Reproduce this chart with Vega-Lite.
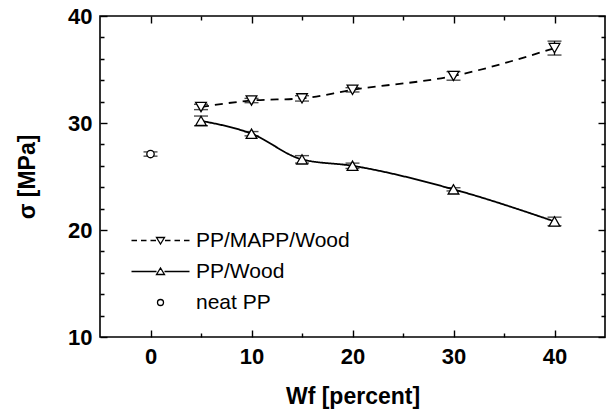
{
  "$schema": "https://vega.github.io/schema/vega-lite/v6.json",
  "width": 505,
  "height": 321,
  "autosize": {"type": "none"},
  "padding": {"left": 100, "top": 16, "right": 3, "bottom": 72},
  "background": "white",
  "config": {
    "view": {"stroke": "black", "strokeWidth": 1.6},
    "font": "Liberation Sans",
    "axis": {
      "domain": false,
      "offset": -7,
      "tickColor": "black",
      "tickWidth": 1.4,
      "tickSize": 7,
      "zindex": 1,
      "labelColor": "black",
      "titleColor": "black",
      "labelFont": "Liberation Sans",
      "titleFont": "Liberation Sans",
      "labelFontWeight": "bold",
      "titleFontWeight": "bold",
      "labelFontSize": 22,
      "titleFontSize": 23,
      "grid": false
    }
  },
  "data": {
    "values": [
      {"series": "PP/MAPP/Wood", "x": 5, "y": 31.5, "lo": 31.25, "hi": 31.75},
      {"series": "PP/MAPP/Wood", "x": 10, "y": 32.1, "lo": 31.9, "hi": 32.3},
      {"series": "PP/MAPP/Wood", "x": 15, "y": 32.3, "lo": 32.05, "hi": 32.55},
      {"series": "PP/MAPP/Wood", "x": 20, "y": 33.1, "lo": 32.9, "hi": 33.3},
      {"series": "PP/MAPP/Wood", "x": 30, "y": 34.4, "lo": 34.0, "hi": 34.8},
      {"series": "PP/MAPP/Wood", "x": 40, "y": 37.0, "lo": 36.35, "hi": 37.65},
      {"series": "PP/Wood", "x": 5, "y": 30.2, "lo": 29.75, "hi": 30.65},
      {"series": "PP/Wood", "x": 10, "y": 29.0, "lo": 28.8, "hi": 29.2},
      {"series": "PP/Wood", "x": 15, "y": 26.6, "lo": 26.25, "hi": 26.95},
      {"series": "PP/Wood", "x": 20, "y": 26.0, "lo": 25.75, "hi": 26.25},
      {"series": "PP/Wood", "x": 30, "y": 23.8, "lo": 23.65, "hi": 23.95},
      {"series": "PP/Wood", "x": 40, "y": 20.8, "lo": 20.4, "hi": 21.2},
      {"series": "neat PP", "x": 0, "y": 27.1, "lo": 26.9, "hi": 27.3}
    ]
  },
  "resolve": {"axis": {"x": "independent", "y": "independent"}, "scale": {"shape": "independent"}},
  "layer": [
    {
      "mark": {"type": "point", "opacity": 0},
      "encoding": {
        "x": {
          "field": "x", "type": "quantitative",
          "scale": {"domain": [-5, 45], "nice": false, "zero": false},
          "axis": {
            "orient": "bottom",
            "values": [0, 5, 10, 15, 20, 25, 30, 35, 40],
            "labelExpr": "datum.value % 10 === 0 ? datum.label : ''",
            "tickDash": {"condition": {"test": "datum.value % 10 === 0", "value": [20, 1]}, "value": [0, 3, 4, 20]},
            "labelPadding": 9,
            "title": "Wf [percent]",
            "titlePadding": 18
          }
        },
        "y": {
          "field": "y", "type": "quantitative",
          "scale": {"domain": [10, 40], "nice": false, "zero": false},
          "axis": {
            "orient": "left",
            "values": [10, 12, 14, 16, 18, 20, 22, 24, 26, 28, 30, 32, 34, 36, 38, 40],
            "labelExpr": "datum.value % 10 === 0 ? datum.label : ''",
            "tickDash": {"condition": {"test": "datum.value % 10 === 0", "value": [20, 1]}, "value": [0, 3, 4, 20]},
            "labelPadding": 8,
            "title": "σ [MPa]",
            "titlePadding": 28
          }
        }
      }
    },
    {
      "mark": {"type": "point", "opacity": 0},
      "encoding": {
        "x": {
          "field": "x", "type": "quantitative",
          "axis": {
            "orient": "top",
            "values": [0, 5, 10, 15, 20, 25, 30, 35, 40],
            "labels": false,
            "title": null,
            "tickDash": {"condition": {"test": "datum.value % 10 === 0", "value": [20, 1]}, "value": [0, 3, 4, 20]}
          }
        },
        "y": {
          "field": "y", "type": "quantitative",
          "axis": {
            "orient": "right",
            "values": [10, 12, 14, 16, 18, 20, 22, 24, 26, 28, 30, 32, 34, 36, 38, 40],
            "labels": false,
            "title": null,
            "tickDash": {"condition": {"test": "datum.value % 10 === 0", "value": [20, 1]}, "value": [0, 3, 4, 20]}
          }
        }
      }
    },
    {
      "transform": [{"filter": "datum.series !== 'neat PP'"}],
      "mark": {"type": "line", "interpolate": "monotone", "color": "black", "strokeWidth": 1.8},
      "encoding": {
        "x": {"field": "x", "type": "quantitative", "axis": null},
        "y": {"field": "y", "type": "quantitative", "axis": null},
        "detail": {"field": "series"},
        "strokeDash": {
          "field": "series", "type": "nominal",
          "scale": {"domain": ["PP/MAPP/Wood", "PP/Wood"], "range": [[8, 6], [1, 0]]},
          "legend": null
        }
      }
    },
    {
      "mark": {"type": "rule", "color": "black", "strokeWidth": 1.3},
      "encoding": {
        "x": {"field": "x", "type": "quantitative", "axis": null},
        "y": {"field": "lo", "type": "quantitative", "axis": null},
        "y2": {"field": "hi"}
      }
    },
    {
      "mark": {"type": "tick", "orient": "horizontal", "color": "black", "size": 14, "thickness": 1.4},
      "encoding": {
        "x": {"field": "x", "type": "quantitative", "axis": null},
        "y": {"field": "hi", "type": "quantitative", "axis": null}
      }
    },
    {
      "mark": {"type": "tick", "orient": "horizontal", "color": "black", "size": 14, "thickness": 1.4},
      "encoding": {
        "x": {"field": "x", "type": "quantitative", "axis": null},
        "y": {"field": "lo", "type": "quantitative", "axis": null}
      }
    },
    {
      "mark": {"type": "point", "filled": true, "fill": "white", "stroke": "black", "strokeWidth": 1.3, "opacity": 1},
      "encoding": {
        "x": {"field": "x", "type": "quantitative", "axis": null},
        "y": {"field": "y", "type": "quantitative", "axis": null},
        "shape": {
          "field": "series", "type": "nominal",
          "scale": {"domain": ["PP/MAPP/Wood", "PP/Wood", "neat PP"], "range": ["triangle-down", "triangle-up", "circle"]},
          "legend": null
        },
        "size": {"condition": {"test": "datum.series === 'neat PP'", "value": 55}, "value": 115}
      }
    },
    {
      "transform": [{"filter": "datum.x > 1000"}],
      "mark": {"type": "point", "filled": false, "color": "black", "strokeWidth": 1.3, "opacity": 1},
      "encoding": {
        "x": {"field": "x", "type": "quantitative", "axis": null},
        "y": {"field": "y", "type": "quantitative", "axis": null},
        "shape": {
          "field": "series", "type": "nominal",
          "scale": {
            "domain": ["PP/MAPP/Wood", "PP/Wood", "neat PP"],
            "range": [
              "M-5.8,0H-4.7M-3.9,0H-2.8M-2.0,0H-0.9M0.9,0H2.0M2.8,0H3.9M4.7,0H5.8M-0.8,-0.6L0.8,-0.6L0,0.7Z",
              "M-5.8,0H-0.8M0.8,0H5.8M-0.8,0.6L0.8,0.6L0,-0.7Z",
              "M-0.6,0A0.6,0.6,0,1,1,0.6,0A0.6,0.6,0,1,1,-0.6,0Z"
            ]
          },
          "legend": {
            "title": null,
            "orient": "none",
            "legendX": 50,
            "legendY": 214,
            "padding": 0,
            "symbolSize": 100,
            "symbolStrokeWidth": 1.3,
            "symbolStrokeColor": "black",
            "symbolOpacity": 1,
            "labelFont": "Liberation Sans",
            "labelFontSize": 21,
            "labelColor": "black",
            "labelOffset": 25,
            "rowPadding": 9
          }
        }
      }
    }
  ]
}
